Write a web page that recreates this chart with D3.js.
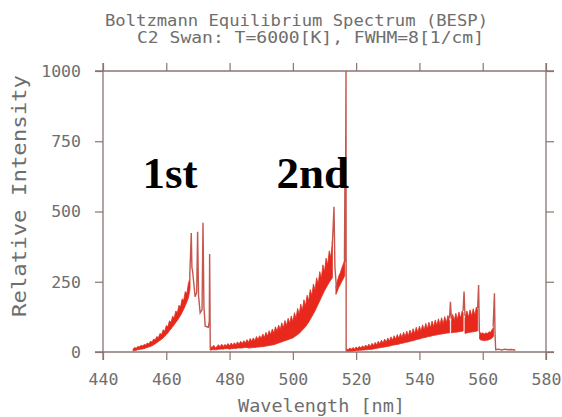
<!DOCTYPE html>
<html><head><meta charset="utf-8">
<script src="https://cdn.jsdelivr.net/npm/d3@7"></script>
<style>
html,body{margin:0;padding:0;background:#fff;}
svg{display:block;}
</style></head>
<body>
<svg id="c" width="562" height="417"></svg>
<script>
// ---- data ----
const titleLines = ["Boltzmann Equilibrium Spectrum (BESP)", "C2 Swan: T=6000[K], FWHM=8[1/cm]"];
const xLabel = "Wavelength [nm]";
const yLabel = "Relative Intensity";
const xTicks = [440, 460, 480, 500, 520, 540, 560, 580];
const yTicks = [0, 250, 500, 750, 1000];
const bandLabels = ["1st", "2nd"];
const bandLabelWl = [461.2, 506.3];
const bandLabelVal = [585, 585];

// dense band (area between lo and hi); null = gap
const bandWl = [
  449.5,450,450.5,451,451.5,452,452.5,453,453.5,454,454.5,455,455.5,456,456.5,457,457.5,458,458.5,459,459.5,
  460,460.5,461,461.5,462,462.5,463,463.5,464,464.5,465,465.5,466,466.5,467,467.5, null,
  474,474.5,475,475.5,476,476.5,477,477.5,478,478.5,479,479.5,480,480.5,481,481.5,482,482.5,483,483.5,484,484.5,
  485,485.5,486,486.5,487,487.5,488,488.5,489,489.5,490,490.5,491,491.5,492,492.5,493,493.5,494,494.5,
  495,495.5,496,496.5,497,497.5,498,498.5,499,499.5,500,500.5,501,501.5,502,502.5,503,503.5,504,504.5,
  505,505.5,506,506.5,507,507.5,508,508.5,509,509.5,510,510.5,511,511.5,512,512.5, null,
  513.6,514,514.5,515,515.5,516,516.4, null,
  517,517.5,518,518.5,519,519.5,520,520.5,521,521.5,522,522.5,523,523.5,524,524.5,525,525.5,526,526.5,
  527,527.5,528,528.5,529,529.5,530,530.5,531,531.5,532,532.5,533,533.5,534,534.5,535,535.5,536,536.5,
  537,537.5,538,538.5,539,539.5,540,540.5,541,541.5,542,542.5,543,543.5,544,544.5,545,545.5,546,546.5,
  547,547.5,548,548.5,549,549.5, null, 550.1,550.5,551,551.5,552,552.5,553,553.5,553.8, null,
  554.4,555,555.5,556,556.5,557,557.5,558,558.4, null,
  559,559.5,560,560.5,561,561.5,562,562.5,563,563.4];
const bandHi = [
  10,16,13,20,18,24,21,27,25,32,29,38,36,46,43,55,51,66,62,79,74,
  94,90,111,106,127,122,146,140,166,160,189,184,215,208,245,262, null,
  20,16,24,14,20,26,18,28,20,27,22,30,22,32,24,33,26,36,28,38,30,40,
  32,44,34,48,38,50,40,55,44,58,48,64,52,70,56,76,62,82,68,90,
  74,96,80,104,86,112,94,120,102,128,108,140,120,155,134,170,148,186,164,202,
  182,222,200,242,220,264,242,286,262,310,286,334,310,360,336,395, null,
  235,250,270,282,300,315,330, null,
  12,8,14,10,16,11,18,13,20,14,22,16,25,18,28,20,31,23,34,26,
  38,29,42,32,46,35,50,38,54,42,58,45,62,48,66,52,70,55,74,58,
  78,62,83,66,88,70,92,74,97,78,102,82,106,86,110,90,114,94,118,97,
  122,100,126,104,130,110, null, 108,134,112,138,116,142,120,146,140, null,
  120,146,124,150,128,154,132,160,150, null,
  70,66,68,64,68,66,72,70,80,88];
const bandLo = [
  4,5,6,8,9,10,11,12,14,16,18,20,22,26,29,33,37,41,45,50,55,
  62,68,76,82,90,97,105,112,121,130,141,152,165,178,193,225, null,
  6,8,8,8,8,10,10,11,10,12,12,12,10,12,12,13,12,14,14,14,14,16,
  16,16,14,15,15,16,16,17,18,18,19,19,20,21,22,23,24,25,26,28,
  30,32,34,36,38,40,42,44,46,48,50,54,58,62,66,72,78,84,90,98,
  106,116,126,136,146,158,170,182,194,206,218,228,238,248,256,264, null,
  205,215,230,240,252,262,272, null,
  2,2,3,3,4,4,5,5,6,6,7,7,8,8,9,9,10,11,12,13,
  14,15,16,17,18,19,20,21,22,24,25,26,27,28,30,31,32,34,35,36,
  38,39,40,42,44,45,46,48,50,51,52,54,55,56,58,59,60,61,62,63,
  64,65,66,67,68,68, null, 68,69,70,70,71,72,73,74,75, null,
  66,68,69,70,71,72,73,74,76, null,
  46,42,42,40,42,42,44,46,50,56];

// thin trace: band heads, spikes, drops, baselines; null = gap
const traceWl = [467.4,467.9,468.1,468.3,469.1,469.6,469.9,470.2,470.7,471.3,471.6,471.9,472.3,473.3,473.6,473.7,473.9,474.2, null,
  512.5,513.0,513.3,513.8, null, 516.3,516.45,516.55,516.8,516.85,517.2, null,
  549.5,549.8,550.1, null, 553.8,554.1,554.4, null, 558.4,558.7,558.95,559.2, null,
  563.3,563.7,563.9,564.1,565,566,567,568,569,570,570.3];
const traceVal = [262,423,300,290,197,212,428,200,139,150,460,160,92,88,110,349,13,18, null,
  385,517,300,225, null, 328,600,320,1000,2,10, null,
  120,179,118, null, 146,215,128, null, 156,238,72,66, null,
  90,209,60,8,10,7,10,8,9,7,6];

// ---- chart ----
const svg = d3.select("#c");
const x = d3.scaleLinear().domain([440, 580]).range([103, 546]);
const y = d3.scaleLinear().domain([0, 1000]).range([352, 71]);
const T = 8;                 // tick length
const axisCol = "#8a7472";
const textCol = "#6e6e6e";
const mono = "'DejaVu Sans Mono', 'Liberation Mono', monospace";

// title
svg.append("text").attr("x", 296.5).attr("y", 26).attr("text-anchor", "middle")
  .attr("font-family", mono).attr("font-size", 15).attr("fill", textCol)
  .attr("textLength", 383).attr("lengthAdjust", "spacingAndGlyphs").text(titleLines[0]);
svg.append("text").attr("x", 310.5).attr("y", 43).attr("text-anchor", "middle")
  .attr("font-family", mono).attr("font-size", 15).attr("fill", textCol)
  .attr("textLength", 347).attr("lengthAdjust", "spacingAndGlyphs").text(titleLines[1]);

// spectrum band
const pts = bandWl.map((w, i) => ({w, hi: bandHi[i], lo: bandLo[i]}));
const area = d3.area().defined(d => d.w !== null)
  .x(d => x(d.w)).y0(d => y(d.lo)).y1(d => y(d.hi));
svg.append("path").datum(pts).attr("d", area)
  .attr("fill", "#e8281c").attr("stroke", "#e0301f").attr("stroke-width", 0.8);

// trace
const tr = traceWl.map((w, i) => ({w, v: traceVal[i]}));
const line = d3.line().defined(d => d.w !== null).x(d => x(d.w)).y(d => y(d.v));
svg.append("path").datum(tr).attr("d", line)
  .attr("fill", "none").attr("stroke", "#c4564e").attr("stroke-width", 1.4);

// axes
function styleAxis(g) {
  g.select(".domain").remove();
  g.selectAll(".tick line").attr("stroke", axisCol).attr("stroke-width", 1.2);
  g.selectAll(".tick text").attr("fill", textCol).attr("font-family", mono).attr("font-size", 16.5);
}
svg.append("g").attr("transform", `translate(0,${y(0)})`)
  .call(d3.axisBottom(x).tickValues(xTicks).tickSize(T).tickPadding(13).tickFormat(d3.format("d")))
  .call(styleAxis);
svg.append("g").attr("transform", `translate(0,${y(1000)})`)
  .call(d3.axisTop(x).tickValues(xTicks).tickSize(T).tickFormat(""))
  .call(styleAxis);
svg.append("g").attr("transform", `translate(${x(440)},0)`)
  .call(d3.axisLeft(y).tickValues(yTicks).tickSize(T).tickPadding(14).tickFormat(d3.format("d")))
  .call(styleAxis);
svg.append("g").attr("transform", `translate(${x(580)},0)`)
  .call(d3.axisRight(y).tickValues(yTicks).tickSize(T).tickFormat(""))
  .call(styleAxis);

// frame lines (extended past corners like the original plotter style)
const frame = svg.append("g").attr("stroke", axisCol).attr("stroke-width", 1.3);
frame.append("line").attr("x1", x(440) - T).attr("x2", x(580) + T).attr("y1", y(0)).attr("y2", y(0));
frame.append("line").attr("x1", x(440) - T).attr("x2", x(580) + T).attr("y1", y(1000)).attr("y2", y(1000));
frame.append("line").attr("x1", x(440)).attr("x2", x(440)).attr("y1", y(1000) - T).attr("y2", y(0) + T);
frame.append("line").attr("x1", x(580)).attr("x2", x(580)).attr("y1", y(1000) - T).attr("y2", y(0) + T);

// axis titles
svg.append("text").attr("x", 321.5).attr("y", 412).attr("text-anchor", "middle")
  .attr("font-family", mono).attr("font-size", 17).attr("fill", textCol)
  .attr("textLength", 167).attr("lengthAdjust", "spacingAndGlyphs").text(xLabel);
svg.append("text").attr("transform", "translate(26,196) rotate(-90)").attr("text-anchor", "middle")
  .attr("font-family", mono).attr("font-size", 19).attr("fill", textCol)
  .attr("textLength", 242).attr("lengthAdjust", "spacingAndGlyphs").text(yLabel);

// band labels
bandLabels.forEach((t, i) => {
  svg.append("text").attr("x", x(bandLabelWl[i])).attr("y", y(bandLabelVal[i]))
    .attr("text-anchor", "middle").attr("font-family", "'Liberation Serif', 'Times New Roman', serif")
    .attr("font-weight", "bold").attr("font-size", 45).attr("fill", "#000").text(t);
});
</script>
</body></html>
